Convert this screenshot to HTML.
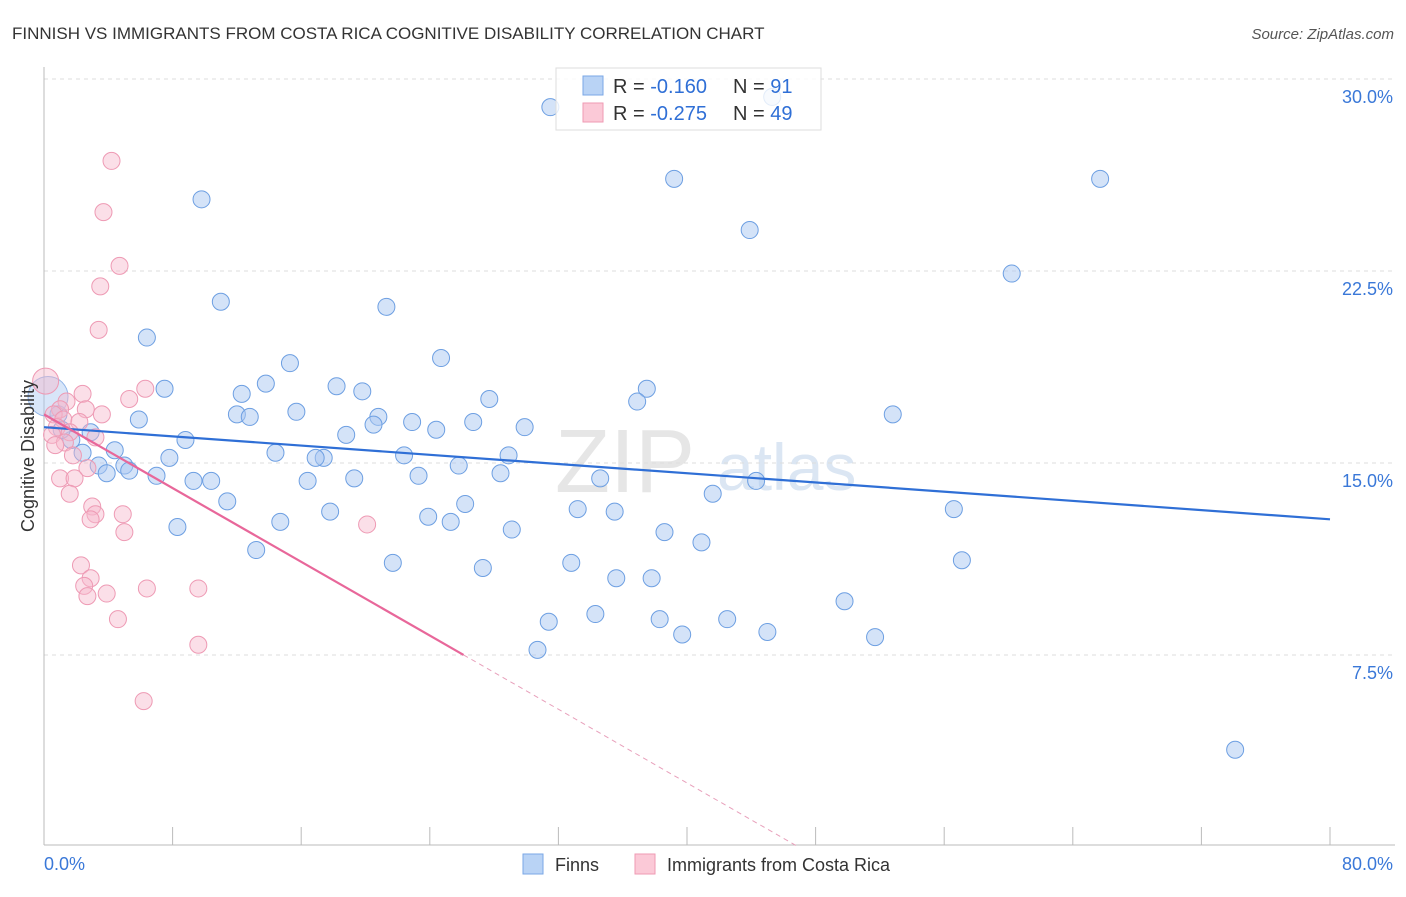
<!DOCTYPE html>
<html><head><meta charset="utf-8"><style>
body{margin:0;background:#fff;font-family:"Liberation Sans",sans-serif;}
svg text{font-family:"Liberation Sans",sans-serif;}
</style></head><body>
<svg id="c" width="1406" height="892" viewBox="0 0 1406 892">
<text x="12" y="39" font-size="17" fill="#333">FINNISH VS IMMIGRANTS FROM COSTA RICA COGNITIVE DISABILITY CORRELATION CHART</text>
<text x="1394" y="39" font-size="15" fill="#555" font-style="italic" text-anchor="end">Source: ZipAtlas.com</text>
<text x="555" y="492" font-size="90" fill="#e6e6e6" font-family="Liberation Serif">ZIP</text>
<text x="717" y="490" font-size="66" fill="#dbe6f3">atlas</text>
<g id="grid"></g><g id="axes"></g><g id="pts"></g><g id="lines"></g>
<text transform="translate(34,456) rotate(-90)" font-size="18" fill="#333" text-anchor="middle">Cognitive Disability</text>
<g>
<rect x="556" y="68" width="265" height="62" fill="#fff" fill-opacity="0.8" stroke="#ddd"/>
<rect x="583" y="76" width="20" height="19" fill="#b9d3f5" stroke="#7aa7e6"/>
<rect x="583" y="103" width="20" height="19" fill="#fbc9d7" stroke="#ef9ab3"/>
<text x="613" y="93" font-size="20" fill="#333">R = <tspan fill="#2f6fd6">-0.160</tspan></text>
<text x="733" y="93" font-size="20" fill="#333">N = <tspan fill="#2f6fd6"> 91</tspan></text>
<text x="613" y="120" font-size="20" fill="#333">R = <tspan fill="#2f6fd6">-0.275</tspan></text>
<text x="733" y="120" font-size="20" fill="#333">N = <tspan fill="#2f6fd6">49</tspan></text>
</g>
<g>
<rect x="523" y="854" width="20" height="20" fill="#b9d3f5" stroke="#7aa7e6"/>
<text x="555" y="871" font-size="18" fill="#333">Finns</text>
<rect x="635" y="854" width="20" height="20" fill="#fbc9d7" stroke="#ef9ab3"/>
<text x="667" y="871" font-size="18" fill="#333">Immigrants from Costa Rica</text>
</g>
</svg>
<script>
const yTicks=[7.5,15,22.5,30];
const yTickLabels=["7.5%","15.0%","22.5%","30.0%"];
const xTicks=[8,16,24,32,40,48,56,64,72,80];
const finnsX=[31.5,45.3,39.2,65.7,9.8,43.9,60.2,11.0,21.3,6.4,24.7,15.3,13.8,18.2,19.8,7.5,12.3,37.5,27.7,36.9,15.7,12.0,12.8,20.8,5.9,22.9,26.7,52.8,20.5,29.9,24.4,18.8,2.9,8.8,1.7,14.4,4.4,22.4,28.9,2.4,17.4,16.9,7.8,25.8,3.4,5.0,5.3,3.9,28.4,23.3,7.0,19.3,34.6,9.3,10.4,16.4,44.3,41.6,11.4,26.2,33.2,35.5,17.8,56.6,23.9,25.3,14.7,8.3,29.1,38.6,40.9,13.2,57.1,21.7,32.8,27.3,35.6,37.8,49.8,34.3,42.5,38.3,31.4,39.7,45.0,51.7,30.7,74.1,0.9,1.1];
const finnsY=[28.9,29.3,26.1,26.1,25.3,24.1,22.4,21.3,21.1,19.9,19.1,18.9,18.1,18.0,17.8,17.9,17.7,17.9,17.5,17.4,17.0,16.9,16.8,16.8,16.7,16.6,16.6,16.9,16.5,16.4,16.3,16.1,16.2,15.9,15.9,15.4,15.5,15.3,15.3,15.4,15.2,15.2,15.2,14.9,14.9,14.9,14.7,14.6,14.6,14.5,14.5,14.4,14.4,14.3,14.3,14.3,14.3,13.8,13.5,13.4,13.2,13.1,13.1,13.2,12.9,12.7,12.7,12.5,12.4,12.3,11.9,11.6,11.2,11.1,11.1,10.9,10.5,10.5,9.6,9.1,8.9,8.9,8.8,8.3,8.4,8.2,7.7,3.8,16.9,16.3];
const costaX=[4.2,3.7,4.7,3.5,3.4,6.3,2.4,5.3,1.4,1.0,2.6,3.6,0.6,1.2,2.2,0.8,1.6,3.2,0.5,1.3,0.7,1.8,2.7,1.0,1.9,1.6,3.0,3.2,4.9,2.9,20.1,5.0,2.3,2.9,2.5,6.4,9.6,3.9,2.7,4.6,9.6,6.2];
const costaY=[26.8,24.8,22.7,21.9,20.2,17.9,17.7,17.5,17.4,17.1,17.1,16.9,16.9,16.7,16.6,16.4,16.2,16.0,16.1,15.8,15.7,15.3,14.8,14.4,14.4,13.8,13.3,13.0,13.0,12.8,12.6,12.3,11.0,10.5,10.2,10.1,10.1,9.9,9.8,8.9,7.9,5.7];
const finnsTrend=[16.4,12.8];
const costaTrend=[16.9,-0.36];
const NS="http://www.w3.org/2000/svg";
const X=v=>44+v/80*1286, Y=v=>847-v/30*768;
function mk(p,t,a){const e=document.createElementNS(NS,t);for(const k in a)e.setAttribute(k,a[k]);p.appendChild(e);return e;}
const grid=document.getElementById('grid'),axes=document.getElementById('axes'),pts=document.getElementById('pts'),lines=document.getElementById('lines');
yTicks.forEach((t,i)=>{
 const l=mk(grid,'line',{x1:44,x2:1395,y1:Y(t),y2:Y(t),stroke:'#ddd','stroke-dasharray':'4,4'});
 
 
 const tx=mk(grid,'text',{x:1393,y:Y(t)+24,'font-size':18,fill:'#3a78d8','text-anchor':'end'});tx.textContent=yTickLabels[i];
 
 
});
let a=mk(axes,'line',{x1:44,x2:44,y1:67,y2:845,stroke:'#bbb'});


a=mk(axes,'line',{x1:44,x2:1395,y1:845,y2:845,stroke:'#bbb'});


xTicks.forEach(t=>{const l=mk(axes,'line',{x1:X(t),x2:X(t),y1:827,y2:845,stroke:'#bbb'});
 
 });
let t0=mk(axes,'text',{x:44,y:870,'font-size':18,fill:'#3a78d8'});t0.textContent='0.0%';


let t1=mk(axes,'text',{x:1393,y:870,'font-size':18,fill:'#3a78d8','text-anchor':'end'});t1.textContent='80.0%';


finnsX.forEach((x,i)=>{const c=mk(pts,'circle',{cx:X(x),cy:Y(finnsY[i]),r:8.5,fill:'#a9c8f2','fill-opacity':0.5,stroke:'#6d9fe2','stroke-width':1});
 
 });
let big=mk(pts,'circle',{cx:X(0.25),cy:Y(17.6),r:20,fill:'#a9c8f2','fill-opacity':0.45,stroke:'#8fb4e8'});


let bigp=mk(pts,'circle',{cx:X(0.1),cy:Y(18.2),r:13,fill:'#f6b8cb','fill-opacity':0.45,stroke:'#ee9ab4'});


costaX.forEach((x,i)=>{const c=mk(pts,'circle',{cx:X(x),cy:Y(costaY[i]),r:8.5,fill:'#f6b8cb','fill-opacity':0.45,stroke:'#ee9ab4','stroke-width':1});
 
 });
let fl=mk(lines,'line',{x1:X(0),y1:Y(finnsTrend[0]),x2:X(80),y2:Y(finnsTrend[1]),stroke:'#2f6fd6','stroke-width':2.2});


const cy=x=>costaTrend[0]+costaTrend[1]*x;
const xs=26.1, xe=-costaTrend[0]/costaTrend[1];
let cl=mk(lines,'line',{x1:X(0),y1:Y(cy(0)),x2:X(xs),y2:Y(cy(xs)),stroke:'#e8679a','stroke-width':2.2});


let cd=mk(lines,'line',{x1:X(xs),y1:Y(cy(xs)),x2:X(xe),y2:Y(0),stroke:'#e8a0bb','stroke-width':1,'stroke-dasharray':'5,4'});


</script>
</body></html>
